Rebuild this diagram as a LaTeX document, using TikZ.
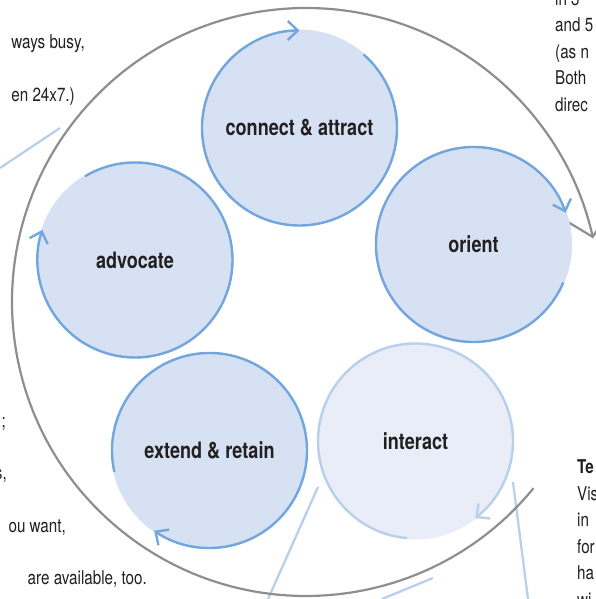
\documentclass[tikz,border=0pt]{standalone}
\usepackage{fontspec}
\setmainfont{TeX Gyre Heros}[FakeStretch=0.8]
\usetikzlibrary{arrows.meta}
\definecolor{ringgray}{HTML}{8E8E8E}
\definecolor{stepblue}{HTML}{72A6DC}
\definecolor{stepfill}{HTML}{D6E1F3}
\definecolor{palefill}{HTML}{E8EDF8}
\definecolor{paleblue}{HTML}{B8D0EC}
\definecolor{ink}{HTML}{231F20}
\begin{document}
\begin{tikzpicture}[x=1pt,y=1pt,
  stage/.style={circle, inner sep=0pt, minimum size=197pt, fill=stepfill, text=ink,
    font=\fontsize{22.6}{27}\selectfont\bfseries},
  palestage/.style={stage, fill=palefill},
  ring/.style={draw=stepblue, line width=2.4pt, -{Straight Barb[length=10pt,width=19pt]}},
  palering/.style={ring, draw=paleblue},
  cyclearc/.style={draw=ringgray, line width=2.2pt, -{Straight Barb[length=20pt,width=42pt]}},
  leader/.style={draw=paleblue, line width=2.3pt},
  body/.style={text=ink, font=\fontsize{19}{22}\selectfont, inner sep=0pt},
]
\useasboundingbox (0,0) rectangle (595,599);

% leader lines
\coordinate (l1a) at (60,471);  \coordinate (l1b) at (0,431);
\coordinate (l2a) at (318,112); \coordinate (l2b) at (268,0);
\coordinate (l3a) at (433,21);  \coordinate (l3b) at (382,0);
\coordinate (l4a) at (513,117); \coordinate (l4b) at (528,0);
\draw[leader] (l1a) -- (l1b);
\draw[leader] (l2a) -- (l2b);
\draw[leader] (l3a) -- (l3b);
\draw[leader] (l4a) -- (l4b);

% big cycle
\coordinate (O) at (306,297);
\draw[cyclearc] ([shift={(-39.3:294)}]O) arc[start angle=-39.3, end angle=-347.5, radius=294];

% stages
\node[stage] (connect) at (299.5,471) {connect \& attract};
\node[stage] (orient) at (473.5,354.5) {orient};
\node[palestage] (interact) at (415.5,158) {interact};
\node[stage] (extend) at (209.5,148.5) {extend \& retain};
\node[stage] (advocate) at (135,339) {advocate};

\draw[ring] ([shift={(49:97.5)}]connect.center) arc[start angle=49, end angle=-270, radius=97.5];
\draw[ring] ([shift={(-23:97.5)}]orient.center) arc[start angle=-23, end angle=-341, radius=97.5];
\draw[palering] ([shift={(265:97.5)}]interact.center) arc[start angle=265, end angle=-52.3, radius=97.5];
\draw[ring] ([shift={(192.7:97.5)}]extend.center) arc[start angle=192.7, end angle=-124.6, radius=97.5];
\draw[ring] ([shift={(120.8:97.5)}]advocate.center) arc[start angle=120.8, end angle=-198, radius=97.5];

% text fragments, left
\node[body, anchor=base east] (tl1) at (85,550) {ways busy,};
\node[body, anchor=base east] (tl2) at (75,497) {en 24x7.)};
\node[body, anchor=base east] (tl3) at (6,171) {;};
\node[body, anchor=base east] (tl4) at (7,119) {s,};
\node[body, anchor=base east] (tl5) at (66,66) {ou want,};
\node[body, anchor=base east] (tl6) at (147,14) {are available, too.};

% text fragments, top right
\node[body, anchor=base west] (tr1) at (555,593) {in 3};
\node[body, anchor=base west] (tr2) at (555,567) {and 5};
\node[body, anchor=base west] (tr3) at (555,540.5) {(as n};
\node[body, anchor=base west] (tr4) at (555,514) {Both};
\node[body, anchor=base west] (tr5) at (555,487.5) {direc};

% text fragments, bottom right
\node[body, anchor=base west, font=\fontsize{19}{22}\selectfont\bfseries] (br1) at (577,125) {Te};
\node[body, anchor=base west] (br2) at (577,98) {Vis};
\node[body, anchor=base west] (br3) at (577,72) {in};
\node[body, anchor=base west] (br4) at (577,45) {for};
\node[body, anchor=base west] (br5) at (577,19) {ha};
\node[body, anchor=base west] (br6) at (577,-8) {wi};
\end{tikzpicture}
\end{document}
